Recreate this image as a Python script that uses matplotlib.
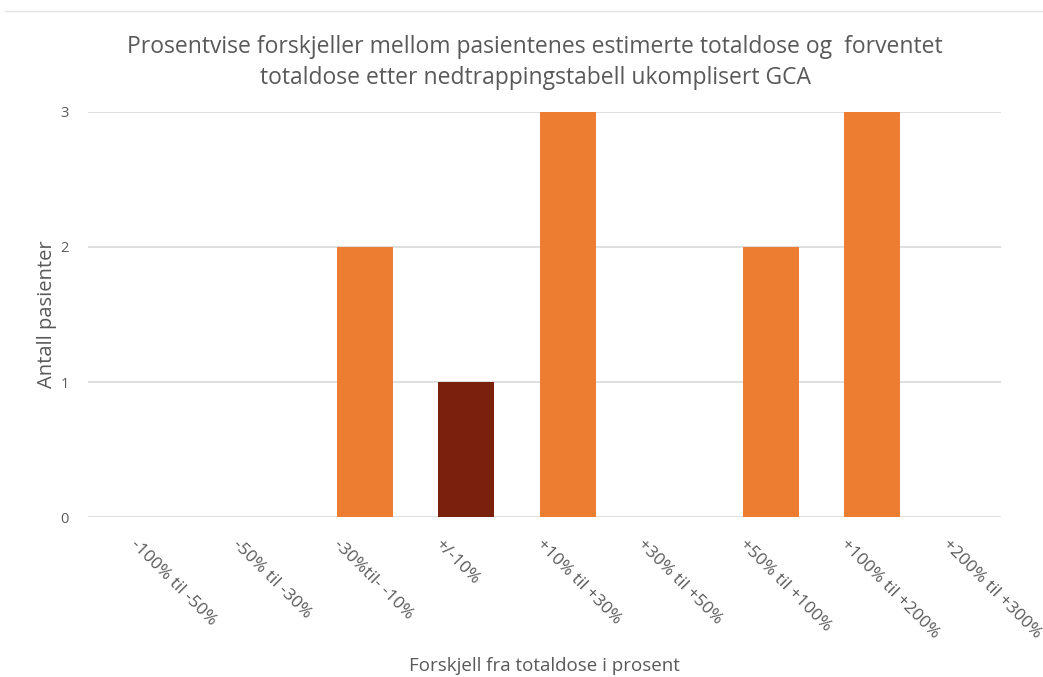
import matplotlib.pyplot as plt
import numpy as np
from matplotlib.lines import Line2D

categories = [
    "-100% til -50%",
    "-50% til -30%",
    "-30%til- -10%",
    "+/-10%",
    "+10% til +30%",
    "+30% til +50%",
    "+50% til +100%",
    "+100% til +200%",
    "+200% til +300%",
]
patients = [0, 0, 2, 1, 3, 0, 2, 3, 0]
highlight = "+/-10%"

ORANGE = "#ED7D31"
DARK = "#7B200D"
TEXT = "#595959"

plt.rcParams["font.family"] = ["Open Sans", "DejaVu Sans"]

fig = plt.figure(figsize=(10.43, 6.77), dpi=100)
ax = fig.add_axes([0.0844, 0.2363, 0.8753, 0.5983])

x = np.arange(len(categories))
colors = [DARK if c == highlight else ORANGE for c in categories]
# bars sit a bit right of the category centre, like the original
ax.bar(x + 0.23, patients, width=0.55, color=colors, zorder=3)

ax.set_xlim(-0.5, len(categories) - 0.5)
ax.set_ylim(0, 3)
ax.set_yticks([0, 1, 2, 3])
ax.yaxis.grid(True, color="#D9D9D9", linewidth=1.2, zorder=0)
for s in ax.spines.values():
    s.set_visible(False)
ax.tick_params(axis="both", length=0, colors=TEXT)
ax.tick_params(axis="y", labelsize=10.5, pad=14)

ax.set_xticks(x)
ax.set_xticklabels(categories, rotation=-45, ha="left", va="top",
                   rotation_mode="anchor", fontsize=12.5, color=TEXT)
ax.tick_params(axis="x", pad=14)

ax.set_ylabel("Antall pasienter", fontsize=14.5, color=TEXT, labelpad=2)
ax.set_xlabel("Forskjell fra totaldose i prosent", fontsize=13.5, color=TEXT)
ax.xaxis.set_label_coords(0.5, -0.345)

fig.text(0.513, 0.948,
         "Prosentvise forskjeller mellom pasientenes estimerte totaldose og  forventet\n"
         "totaldose etter nedtrappingstabell ukomplisert GCA",
         ha="center", va="top", fontsize=16.5, color=TEXT, linespacing=1.4)

fig.add_artist(Line2D([0.005, 1.0], [0.984, 0.984], color="#E3E3E3", linewidth=1))

plt.savefig("out.png", dpi=100)
